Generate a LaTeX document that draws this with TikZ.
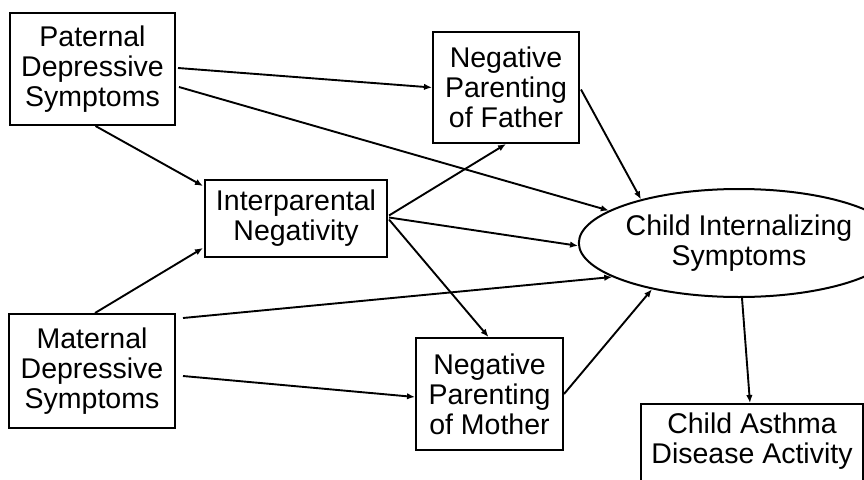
\documentclass[tikz,border=0pt]{standalone}
\usepackage{fontspec}
\setmainfont{Liberation Sans}
\usetikzlibrary{shapes.geometric,arrows.meta}
\begin{document}
\begin{tikzpicture}[x=1pt,y=-1pt,
  every node/.style={font=\fontsize{28.5}{30}\selectfont, align=center, inner sep=0pt},
  varbox/.style={draw, line width=2pt, rectangle},
  latent/.style={draw, line width=2pt, ellipse, minimum width=248pt, minimum height=108pt},
  path/.style={line width=1.9pt, -{Latex[length=8pt,width=6.5pt]}}
]
\clip (0,0) rectangle (864,479);
\fill[white] (0,0) rectangle (864,479);

\node[varbox, minimum width=165pt, minimum height=112pt] (pat) at (92.5,69) {Paternal\\Depressive\\Symptoms};
\node[varbox, minimum width=166pt, minimum height=114pt] (mat) at (92,371) {Maternal\\Depressive\\Symptoms};
\node[varbox, minimum width=182pt, minimum height=77pt] (int) at (296,218.5) {Interparental\\Negativity};
\node[varbox, minimum width=146pt, minimum height=111pt] (npf) at (506,87.5) {Negative\\Parenting\\of Father};
\node[varbox, minimum width=147pt, minimum height=112pt] (npm) at (489.5,394) {Negative\\Parenting\\of Mother};
\node[latent] (ell) at (739,243) {Child Internalizing\\Symptoms};
\node[varbox, minimum width=222pt, minimum height=100pt, anchor=north] (astbox) at (752,403) {};
\node (ast) at (752,441) {Child Asthma\\Disease Activity};

\draw[path] ([xshift=2pt,yshift=1pt]pat.east) -- (npf.west);
\draw[path] ([xshift=3pt,yshift=-18pt]pat.east) -- (ell.166);
\draw[path] ([xshift=3pt]pat.south) -- ([xshift=-1pt,yshift=-7pt]int.north west);
\draw[path] ([xshift=3pt]mat.north) -- ([xshift=-1pt,yshift=10pt]int.south west);
\draw[path] ([xshift=7pt,yshift=-5pt]mat.north east) -- (ell.195);
\draw[path] ([xshift=7pt,yshift=-5pt]mat.east) -- ([yshift=-3pt]npm.west);
\draw[path] ([xshift=1pt,yshift=3pt]int.east) -- (npf.south);
\draw[path] ([xshift=1pt,yshift=1pt]int.east) -- (ell.181);
\draw[path] ([xshift=1pt,yshift=-1pt]int.east) -- ([xshift=-1pt]npm.north);
\draw[path] ([xshift=1pt,yshift=-2pt]npf.east) -- (ell.156);
\draw[path] (npm.east) -- (ell.208);
\draw[path] ([xshift=3pt]ell.south) -- ([xshift=-2pt]astbox.north);
\end{tikzpicture}
\end{document}
